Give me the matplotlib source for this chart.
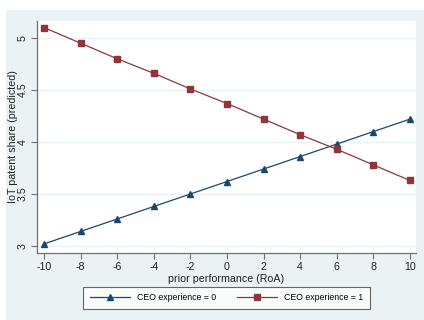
import matplotlib
matplotlib.use("Agg")
import matplotlib.pyplot as plt
from matplotlib.patches import Rectangle

plt.rcParams['font.family'] = ['Liberation Sans', 'DejaVu Sans']

roa = [-10, -8, -6, -4, -2, 0, 2, 4, 6, 8, 10]
ceo0 = [3.02, 3.14, 3.26, 3.38, 3.50, 3.62, 3.74, 3.86, 3.98, 4.10, 4.22]
ceo1 = [5.10, 4.95, 4.80, 4.66, 4.51, 4.37, 4.22, 4.07, 3.93, 3.78, 3.63]
yticks = [3, 3.5, 4, 4.5, 5]
ytick_labels = ["3", "3.5", "4", "4.5", "5"]
xticks = [-10, -8, -6, -4, -2, 0, 2, 4, 6, 8, 10]
series_labels = ["CEO experience = 0", "CEO experience = 1"]

W, H = 424, 320
fig = plt.figure(figsize=(W/100, H/100), dpi=100)
fig.patch.set_facecolor('white')
bg = '#eaf2f3'
fig.add_artist(Rectangle((6/W, 0), 1 - 6/W, (H-10)/H, transform=fig.transFigure,
                         facecolor=bg, edgecolor='none', zorder=0))

ax = fig.add_axes([37/W, (H-253)/H, 379/W, 232/H])
ax.set_facecolor('white')
navy = '#1a476f'
maroon = '#90353b'
l0, = ax.plot(roa, ceo0, color=navy, lw=0.9, marker='^', markersize=4.5, label=series_labels[0])
l1, = ax.plot(roa, ceo1, color=maroon, lw=0.9, marker='s', markersize=4, label=series_labels[1])

ax.set_xlim(-10.38, 10.33)
ax.set_ylim(2.933, 5.163)
ax.set_xticks(xticks)
ax.set_xticklabels([str(v) for v in xticks])
ax.set_yticks(yticks)
ax.set_yticklabels(ytick_labels, rotation=90, va='center')
ax.grid(axis='y', color=bg, lw=1.0)
ax.set_axisbelow(True)
for s in ['top', 'right']:
    ax.spines[s].set_visible(False)
for s in ['left', 'bottom']:
    ax.spines[s].set_color('#707070')
    ax.spines[s].set_linewidth(0.9)
ax.tick_params(axis='both', length=4.5, width=0.8, color='#707070', labelsize=7.7, pad=2.0, labelcolor='#222222')
ax.set_xlabel('prior performance (RoA)', fontsize=7.7, labelpad=1.5, color='#222222')
ax.set_ylabel('IoT patent share (predicted)', fontsize=7.7, color='#222222')
ax.yaxis.set_label_coords((18.0 - 37) / 379, 0.5)

leg = fig.legend(handles=[l0, l1], loc='center', bbox_to_anchor=((85+368)/2/W, 1 - 298/H),
                 ncol=2, fontsize=6.3, frameon=True, fancybox=False, edgecolor='#404040',
                 handlelength=4.6, handletextpad=0.8, columnspacing=2.4, borderpad=0.7,
                 borderaxespad=0)
leg.get_frame().set_linewidth(0.8)
leg.get_frame().set_facecolor('white')

fig.savefig('out.png', dpi=100, facecolor=fig.get_facecolor())
